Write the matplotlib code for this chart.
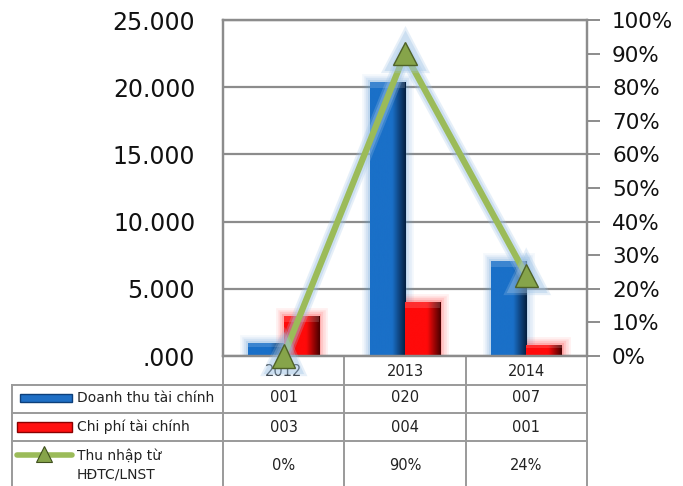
import numpy as np
import matplotlib
matplotlib.use("Agg")
import matplotlib.pyplot as plt
import matplotlib.patheffects as pe
import matplotlib.transforms as mtransforms
from matplotlib.ticker import FuncFormatter, MultipleLocator
from matplotlib.lines import Line2D
from matplotlib.patches import Rectangle

plt.rcParams['font.family'] = ['DejaVu Sans']

years = ["2012", "2013", "2014"]
doanh_thu = [1.0, 20.4, 7.1]      # Doanh thu tài chính
chi_phi = [3.0, 4.0, 0.8]         # Chi phí tài chính
ty_le = [0.0, 0.90, 0.24]         # Thu nhập từ HĐTC/LNST
row_names = ["Doanh thu tài chính", "Chi phí tài chính", "Thu nhập từ\nHĐTC/LNST"]

W, H = 683, 486
fig = plt.figure(figsize=(W / 100, H / 100), dpi=100)

left_px, mid_px, right_px = 12, 223, 587
top_px, base_px = 20, 356
grid_col = "#8c8c8c"
tab_col = "#9a9a9a"

def fx(px):
    return px / W

def fy(py):
    return 1 - py / H

def ya(py):
    # figure pixel row -> axes fraction of the main chart
    return (base_px - py) / (base_px - top_px)

# ---------- chart ----------
ax = fig.add_axes([fx(mid_px), fy(base_px), fx(right_px - mid_px), (base_px - top_px) / H])
ax.set_facecolor("none")
ax.yaxis.set_major_locator(MultipleLocator(5))
ax.yaxis.set_major_formatter(FuncFormatter(lambda v, p: f"{v:.3f}".lstrip("0")))
ax.tick_params(axis="y", length=0, pad=20, labelsize=17, labelcolor="#111111")
ax.set_xticks([])
ax.grid(axis="y", color=grid_col, lw=1.6, zorder=0)
ax.set_axisbelow(True)
for s in ax.spines.values():
    s.set_color(grid_col)
    s.set_linewidth(1.6)

x = np.arange(len(years))
bw = 0.29

def glow(color):
    return [pe.Stroke(linewidth=12, foreground=color, alpha=0.07),
            pe.Stroke(linewidth=9, foreground=color, alpha=0.09),
            pe.Stroke(linewidth=6, foreground=color, alpha=0.12),
            pe.Stroke(linewidth=3, foreground=color, alpha=0.18),
            pe.Normal()]

def shade(bars, light, dark):
    grad = np.linspace(0, 1, 64).reshape(1, -1)
    cmap = matplotlib.colors.LinearSegmentedColormap.from_list(
        "g", [(0, light), (0.62, light), (1, dark)])
    for b in bars:
        x0, y0, w, h = b.get_x(), b.get_y(), b.get_width(), b.get_height()
        im = ax.imshow(grad, extent=[x0, x0 + w, y0, y0 + h], aspect="auto",
                       cmap=cmap, zorder=b.get_zorder() + 0.1, interpolation="bicubic")
        im.set_clip_path(b)
        ax.add_patch(Rectangle((x0, y0 + h - min(0.45, h * 0.3)), w, min(0.45, h * 0.3),
                               facecolor="white", alpha=0.15, lw=0, zorder=b.get_zorder() + 0.2))

b1 = ax.bar(x - bw / 2, doanh_thu, bw, color="#1a6fc7", lw=0, zorder=2)
b2 = ax.bar(x + bw / 2, chi_phi, bw, color="#ff0000", lw=0, zorder=2)
for b in b1:
    b.set_path_effects(glow("#5b9bd5"))
for b in b2:
    b.set_path_effects(glow("#ff3030"))
shade(b1, "#1a70c8", "#051f40")
shade(b2, "#ff0a0a", "#4a0000")
ax.set_xlim(-0.5, 2.5)
ax.set_ylim(0, 25)

# ---------- data table under the chart ----------
tx = ax.get_xaxis_transform()                       # x: category, y: axes fraction
tl = mtransforms.blended_transform_factory(fig.transFigure, ax.transAxes)
row_edges = [385, 413, 441]
row_mid = [398, 427, 465]
bottom = ya(H + 5)

for py in row_edges:
    ax.add_line(Line2D([fx(left_px), fx(mid_px)], [ya(py), ya(py)], transform=tl,
                       color=tab_col, lw=1.4, clip_on=False))
    ax.add_line(Line2D([-0.5, 2.5], [ya(py), ya(py)], transform=tx,
                       color=tab_col, lw=1.4, clip_on=False))
ax.add_line(Line2D([fx(left_px), fx(left_px)], [ya(row_edges[0]), bottom], transform=tl,
                   color=tab_col, lw=1.4, clip_on=False))
for xb in np.arange(len(years) + 1) - 0.5:
    ax.add_line(Line2D([xb, xb], [0, bottom], transform=tx,
                       color=tab_col, lw=1.4, clip_on=False))

cell_text = [[f"{round(v):03d}" for v in doanh_thu],
             [f"{round(v):03d}" for v in chi_phi],
             [f"{v:.0%}" for v in ty_le]]
for i, yr in enumerate(years):
    ax.text(i, ya(371), yr, transform=tx, ha="center", va="center",
            fontsize=10.5, color="#222222")
    for r in range(3):
        ax.text(i, ya(row_mid[r]), cell_text[r][i], transform=tx, ha="center",
                va="center", fontsize=10.5, color="#222222")

for r in range(3):
    ax.text(fx(77), ya(row_mid[r]), row_names[r], transform=tl, ha="left", va="center",
            fontsize=10, color="#222222", linespacing=1.35)

# legend keys
ax.add_patch(Rectangle((fx(20), ya(row_mid[0] + 4)), fx(52), 8 / (base_px - top_px),
                       transform=tl, facecolor="#1f6fc5", edgecolor="#0d3f7a", lw=1,
                       clip_on=False))
ax.add_patch(Rectangle((fx(17), ya(row_mid[1] + 5)), fx(55), 10 / (base_px - top_px),
                       transform=tl, facecolor="#ff1010", edgecolor="#8a0000", lw=1,
                       clip_on=False))
ax.add_line(Line2D([fx(17), fx(72)], [ya(455), ya(455)], transform=tl,
                   color="#9bbb59", lw=4, solid_capstyle="round", clip_on=False))
ax.add_line(Line2D([fx(44)], [ya(454)], transform=tl, marker="^", ms=11,
                   color="#86a44a", mec="#3f4f1f", mew=0.8, clip_on=False))

# ---------- percentage line ----------
ax2 = ax.twinx()
ax2.set_ylim(0, 1)
ax2.yaxis.set_major_locator(MultipleLocator(0.1))
ax2.yaxis.set_major_formatter(FuncFormatter(lambda v, p: f"{v:.0%}"))
ax2.tick_params(axis="y", length=9, width=1.4, color=grid_col, pad=9,
                labelsize=15.5, labelcolor="#111111")
for s in ax2.spines.values():
    s.set_color(grid_col)
    s.set_linewidth(1.6)

ax2.plot(x, ty_le, color="#9bbb59", lw=4.5, marker="^", ms=17,
         mfc="#86a44a", mec="#4f6228", mew=1, clip_on=False, zorder=5,
         path_effects=[pe.Stroke(linewidth=11, foreground="#9dc3e6", alpha=0.25),
                       pe.Stroke(linewidth=8, foreground="#9dc3e6", alpha=0.35),
                       pe.Normal()])

fig.savefig("out.png", dpi=100)
